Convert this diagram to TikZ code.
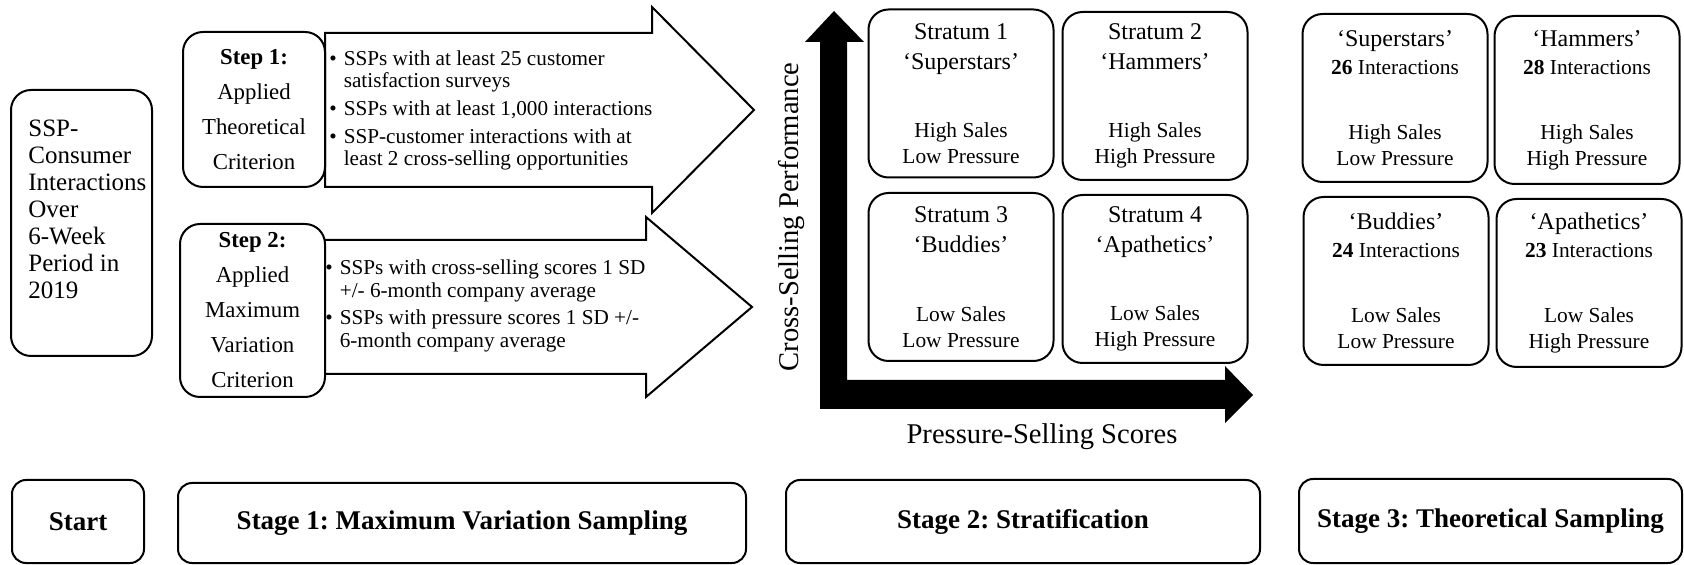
\documentclass[tikz,border=0pt]{standalone}
\usepackage{fontspec}
\setmainfont{Liberation Serif}
\usetikzlibrary{positioning}
\frenchspacing

\newcommand{\toptxt}[1]{{\fontsize{12}{13}\selectfont #1}}

\begin{document}
\begin{tikzpicture}[x=0.5pt, y=-0.5pt,
  every node/.style={inner sep=0pt},
  rbox/.style={draw, line width=1pt, rounded corners=10pt, fill=white, align=center},
  stratbox/.style={rbox, minimum width=92.5pt, minimum height=84pt, font=\fontsize{10.7}{13}\selectfont},
  stagebox/.style={rbox, rounded corners=7pt, font=\fontsize{13.5}{16}\selectfont\bfseries},
  bigarrow/.style={draw, line width=1pt, fill=white},
  bullets/.style={anchor=west, font=\fontsize{10.6}{11.3}\selectfont},
  axislabel/.style={font=\fontsize{14.3}{16}\selectfont}]

  \useasboundingbox (0,0) rectangle (1684,565);

  % Block arrows of stage 1
  \draw[bigarrow] (325,33) -- (652,33) -- (652,7) -- (754,110) -- (652,213) -- (652,187) -- (325,187) -- cycle;
  \draw[bigarrow] (324,240) -- (646,240) -- (646,217) -- (752,307) -- (646,397) -- (646,374) -- (324,374) -- cycle;

  % Start box
  \node[rbox, minimum width=70.5pt, minimum height=133pt] (ssp) at (81.5,223) {};
  \node[anchor=north west, align=left, font=\fontsize{12.5}{13.5}\selectfont] (ssptext) at (28,120)
    {SSP-\\Consumer\\Interactions\\Over\\6-Week\\Period in\\2019};

  % Steps
  \node[rbox, minimum width=71pt, minimum height=77.5pt, font=\fontsize{11.4}{17.5}\selectfont] (step1) at (254,109.5)
    {\textbf{Step 1:}\\Applied\\Theoretical\\Criterion};
  \node[rbox, minimum width=72.5pt, minimum height=86.5pt, font=\fontsize{11.4}{17.5}\selectfont] (step2) at (252.5,310.5)
    {\textbf{Step 2:}\\Applied\\Maximum\\Variation\\Criterion};

  % Criteria in the arrows
  \node[bullets] (crit1) at (329,111) {\renewcommand{\arraystretch}{1}%
    \begin{tabular}{@{}l@{\hspace{3.5pt}}l@{}}
      \textbullet & SSPs with at least 25 customer\\
                  & satisfaction surveys\\[2.5pt]
      \textbullet & SSPs with at least 1,000 interactions\\[2.5pt]
      \textbullet & SSP-customer interactions with at\\
                  & least 2 cross-selling opportunities
    \end{tabular}};
  \node[bullets] (crit2) at (325,306.5) {\renewcommand{\arraystretch}{1}%
    \begin{tabular}{@{}l@{\hspace{3.5pt}}l@{}}
      \textbullet & SSPs with cross-selling scores 1 SD\\
                  & +/- 6-month company average\\[2.5pt]
      \textbullet & SSPs with pressure scores 1 SD +/-\\
                  & 6-month company average
    \end{tabular}};

  % Axes of stage 2
  \fill (820,409) -- (820,42) -- (805,42) -- (834,11) -- (864,42) -- (847,42) -- (847,380)
    -- (1225,380) -- (1225,366) -- (1253,395) -- (1225,423) -- (1225,409) -- cycle;
  \node[axislabel, rotate=90] (ylab) at (792,217) {Cross-Selling Performance};
  \node[axislabel] (xlab) at (1042,437) {Pressure-Selling Scores};

  % Strata
  \node[stratbox] (s1) at (961,93.5)
    {\toptxt{Stratum 1}\\[2pt]\toptxt{‘Superstars’}\\[21.25pt]High Sales\\Low Pressure};
  \node[stratbox] (s2) at (1155,96)
    {\toptxt{Stratum 2}\\[2pt]\toptxt{‘Hammers’}\\[21.25pt]High Sales\\High Pressure};
  \node[stratbox] (s3) at (961,277)
    {\toptxt{Stratum 3}\\[2pt]\toptxt{‘Buddies’}\\[21.25pt]Low Sales\\Low Pressure};
  \node[stratbox] (s4) at (1155,279)
    {\toptxt{Stratum 4}\\[2pt]\toptxt{‘Apathetics’}\\[21.25pt]Low Sales\\High Pressure};

  % Theoretical sample
  \node[stratbox] (t1) at (1395,98)
    {\toptxt{‘Superstars’}\\[1pt]\textbf{26} Interactions\\[19.5pt]High Sales\\Low Pressure};
  \node[stratbox] (t2) at (1587,100)
    {\toptxt{‘Hammers’}\\[1pt]\textbf{28} Interactions\\[19.5pt]High Sales\\High Pressure};
  \node[stratbox] (t3) at (1396,281)
    {\toptxt{‘Buddies’}\\[1pt]\textbf{24} Interactions\\[19.5pt]Low Sales\\Low Pressure};
  \node[stratbox] (t4) at (1589,283)
    {\toptxt{‘Apathetics’}\\[1pt]\textbf{23} Interactions\\[19.5pt]Low Sales\\High Pressure};

  % Stage labels
  \node[stagebox, minimum width=66pt, minimum height=41.5pt] (start) at (78,521.5) {Start};
  \node[stagebox, minimum width=284pt, minimum height=40pt] (stage1) at (462,523) {Stage 1: Maximum Variation Sampling};
  \node[stagebox, minimum width=237pt, minimum height=41.5pt] (stage2) at (1023,521.5) {Stage 2: Stratification};
  \node[stagebox, minimum width=191.5pt, minimum height=42pt] (stage3) at (1490.5,521) {Stage 3: Theoretical Sampling};
\end{tikzpicture}
\end{document}
